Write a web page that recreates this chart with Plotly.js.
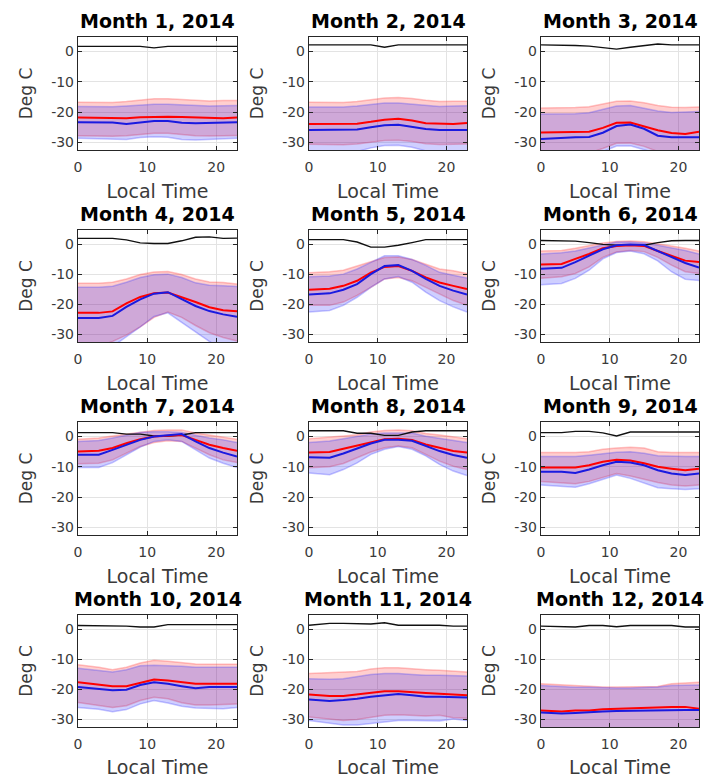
<!DOCTYPE html>
<html>
<head>
<meta charset="utf-8">
<script src="https://cdn.plot.ly/plotly-3.0.1.min.js"></script>
<style>html,body{margin:0;padding:0;background:#fff;}#chart{width:704px;height:778px;}</style>
</head>
<body>
<div id="chart"></div>
<script>
// Local time (hours) at which values were read
const hours = [0, 3, 5, 7, 9, 11, 13, 15, 17, 19, 21, 23];
const monthTitles = ["Month 1, 2014","Month 2, 2014","Month 3, 2014","Month 4, 2014","Month 5, 2014","Month 6, 2014",
                     "Month 7, 2014","Month 8, 2014","Month 9, 2014","Month 10, 2014","Month 11, 2014","Month 12, 2014"];
const xTicks = [0, 10, 20];
const yTicks = [0, -10, -20, -30];

// black reference line, per month
const black = [
  [1.7,1.7,1.7,1.7,1.7,1.2,1.7,1.7,1.7,1.7,1.7,1.7],
  [2.2,2.2,2.2,2.2,2.2,1.4,2.2,2.2,2.2,2.2,2.2,2.2],
  [2.2,2.2,2.0,1.8,1.2,0.8,1.4,2.0,2.5,2.2,2.2,2.2],
  [2.0,2.0,2.0,1.5,0.5,0.3,0.3,1.2,2.4,2.5,2.0,2.1],
  [1.6,1.6,1.6,0.8,-0.9,-0.9,-0.3,0.6,1.6,1.6,1.6,1.6],
  [1.3,1.3,1.1,0.6,0.0,-0.3,-0.3,-0.3,0.6,1.2,1.3,1.3],
  [1.3,1.3,1.3,0.8,0.8,0.2,0.2,0.5,1.3,1.3,1.3,1.3],
  [1.9,1.9,1.9,1.1,1.1,0.4,0.4,1.5,1.9,1.9,1.9,1.9],
  [1.3,1.3,1.7,1.7,1.2,0.2,1.5,1.5,1.5,1.5,1.5,1.5],
  [1.3,1.3,1.2,1.1,0.8,0.8,1.6,1.6,1.6,1.6,1.6,1.6],
  [1.4,2.0,2.0,1.8,1.8,2.2,1.4,1.4,1.4,1.4,1.1,1.1],
  [1.1,0.8,0.8,1.3,1.3,0.9,1.3,1.3,1.3,1.3,0.8,0.8]
];
// red series: mean, upper and lower band edges
const redMean = [
  [-21.8,-21.8,-21.9,-22.0,-21.7,-21.5,-21.5,-21.6,-21.8,-21.9,-22.0,-21.8],
  [-23.9,-23.9,-23.9,-23.8,-23.2,-22.5,-22.2,-22.8,-23.7,-23.9,-23.9,-23.6],
  [-26.7,-26.7,-26.7,-26.5,-25.2,-23.5,-23.4,-24.6,-26.0,-26.9,-27.2,-26.5],
  [-22.8,-22.8,-22.3,-19.6,-17.5,-16.3,-16.0,-17.5,-19.2,-20.9,-21.9,-22.3],
  [-15.1,-14.8,-13.8,-12.1,-9.4,-7.5,-7.2,-8.8,-11.0,-12.7,-13.8,-14.9],
  [-6.7,-6.5,-4.8,-3.2,-1.3,-0.5,-0.3,-0.5,-2.2,-3.8,-5.4,-5.9],
  [-4.9,-4.7,-3.8,-2.2,-0.9,0.0,0.3,0.5,-1.1,-2.7,-3.8,-4.7],
  [-5.3,-5.1,-4.0,-2.9,-2.0,-0.9,-0.7,-1.1,-2.6,-3.7,-4.8,-5.3],
  [-10.2,-10.2,-10.2,-9.5,-8.3,-7.7,-7.9,-8.8,-10.0,-10.6,-11.1,-10.6],
  [-17.6,-18.5,-18.9,-18.9,-17.8,-16.7,-17.0,-17.6,-18.1,-18.1,-18.1,-18.1],
  [-21.7,-22.2,-22.2,-21.7,-21.0,-20.6,-20.6,-21.0,-21.2,-21.4,-21.7,-21.9],
  [-27.0,-27.3,-27.0,-27.0,-26.6,-26.4,-26.2,-26.1,-25.9,-25.8,-25.8,-26.4]
];
const redHi = [
  [-16.7,-16.8,-16.8,-16.5,-16.0,-15.6,-15.6,-15.8,-16.2,-16.3,-16.2,-16.2],
  [-16.7,-16.8,-16.8,-16.5,-15.8,-15.3,-15.2,-15.5,-16.1,-16.5,-16.4,-16.4],
  [-18.6,-18.6,-18.5,-18.2,-17.2,-16.4,-16.3,-16.9,-17.8,-18.4,-18.5,-18.3],
  [-12.9,-12.9,-12.6,-11.5,-10.0,-9.2,-9.0,-10.0,-11.5,-12.5,-12.7,-13.2],
  [-9.4,-9.1,-8.6,-7.3,-5.8,-4.4,-4.2,-5.0,-6.5,-8.2,-8.8,-9.7],
  [-2.2,-2.0,-1.3,-0.5,0.5,1.0,1.1,0.9,0.3,-0.5,-1.3,-2.2],
  [-0.9,-0.5,0.2,0.8,1.6,2.0,2.2,2.2,1.2,0.5,-0.2,-0.9],
  [-0.7,-0.3,0.2,0.6,1.5,2.0,2.2,1.9,1.0,0.5,-0.1,-0.7],
  [-5.3,-5.3,-5.3,-5.0,-4.2,-3.8,-3.5,-3.8,-5.0,-5.3,-5.3,-5.3],
  [-11.8,-12.6,-13.4,-12.6,-11.2,-10.3,-10.6,-11.0,-11.5,-11.6,-11.6,-11.6],
  [-14.7,-14.5,-14.3,-14.0,-13.2,-12.8,-12.8,-13.2,-13.4,-13.6,-14.0,-14.2],
  [-18.1,-18.5,-18.7,-19.0,-19.2,-19.2,-19.2,-19.0,-19.0,-18.1,-17.8,-17.6]
];
const redLo = [
  [-27.8,-27.9,-28.0,-27.8,-27.3,-27.0,-27.0,-27.4,-27.8,-27.9,-27.8,-27.7],
  [-30.6,-30.8,-30.8,-30.5,-29.9,-29.4,-29.3,-29.7,-30.4,-30.7,-30.6,-30.5],
  [-34.5,-34.5,-34.0,-33.5,-32.0,-30.3,-30.2,-31.3,-33.0,-34.0,-34.5,-34.5],
  [-34.0,-34.0,-32.3,-30.2,-27.5,-24.3,-22.5,-24.3,-27.0,-29.4,-31.0,-32.2],
  [-20.3,-20.3,-19.2,-17.0,-14.3,-11.5,-11.0,-12.1,-14.3,-16.5,-18.7,-20.3],
  [-11.3,-10.8,-9.7,-7.5,-4.3,-2.5,-2.0,-2.4,-4.3,-6.9,-9.1,-9.7],
  [-9.0,-8.8,-7.7,-5.5,-3.3,-2.0,-1.4,-1.6,-3.8,-6.0,-7.7,-8.6],
  [-10.3,-10.0,-8.9,-7.0,-5.1,-3.7,-3.1,-3.7,-5.9,-8.1,-9.8,-10.9],
  [-14.8,-15.2,-15.6,-14.8,-13.6,-12.2,-13.0,-14.1,-15.2,-16.0,-16.3,-16.0],
  [-24.3,-25.2,-26.0,-25.4,-23.7,-22.6,-23.1,-24.4,-25.2,-25.2,-25.0,-24.8],
  [-29.2,-29.8,-30.3,-30.0,-29.2,-28.6,-28.4,-28.6,-28.8,-28.6,-29.4,-29.6],
  [-36.0,-36.0,-36.0,-36.0,-36.0,-36.0,-36.0,-36.0,-36.0,-36.0,-36.0,-36.0]
];
// blue series: mean, upper and lower band edges
const blueMean = [
  [-23.3,-23.3,-23.4,-23.9,-23.3,-22.9,-22.9,-23.5,-23.7,-23.6,-23.4,-23.3],
  [-25.9,-25.9,-25.9,-25.7,-25.0,-24.3,-24.2,-24.8,-25.6,-25.9,-25.9,-25.9],
  [-28.9,-28.4,-28.3,-28.2,-26.8,-24.6,-24.1,-25.5,-27.8,-28.3,-28.3,-28.3],
  [-24.5,-24.5,-23.8,-20.8,-18.3,-16.4,-15.9,-18.2,-20.5,-22.2,-23.3,-24.1],
  [-16.7,-16.3,-15.1,-13.2,-9.9,-7.2,-6.9,-8.8,-11.5,-13.8,-15.4,-16.7],
  [-8.1,-7.8,-5.9,-3.8,-1.6,-0.3,0.0,-0.2,-2.2,-4.3,-6.2,-7.7],
  [-6.0,-6.0,-4.4,-2.7,-1.1,0.0,0.5,0.8,-1.6,-3.8,-5.3,-6.6],
  [-6.8,-7.0,-5.6,-4.0,-2.3,-1.1,-1.1,-1.4,-3.1,-4.8,-6.1,-7.0],
  [-11.6,-11.6,-12.0,-10.9,-9.5,-8.3,-8.6,-9.5,-11.1,-12.2,-12.7,-12.2],
  [-19.2,-19.8,-20.3,-20.1,-18.5,-17.6,-18.1,-18.9,-19.6,-19.2,-19.2,-19.2],
  [-23.3,-23.8,-23.5,-23.1,-22.4,-21.9,-21.5,-21.9,-22.4,-22.4,-22.6,-22.7],
  [-27.7,-28.0,-27.8,-27.5,-27.3,-27.2,-27.1,-27.0,-26.8,-26.8,-26.8,-26.8]
];
const blueHi = [
  [-18.1,-18.2,-18.2,-18.0,-17.6,-17.4,-17.4,-17.6,-17.9,-18.0,-17.9,-17.8],
  [-18.3,-18.4,-18.3,-18.0,-17.4,-17.0,-17.0,-17.3,-17.8,-18.1,-18.0,-17.9],
  [-20.6,-20.6,-20.5,-20.2,-19.0,-18.0,-17.8,-18.6,-19.6,-20.1,-20.0,-19.8],
  [-14.3,-14.3,-13.9,-12.6,-11.0,-10.1,-9.9,-11.0,-12.8,-13.6,-13.8,-14.0],
  [-10.8,-10.5,-9.9,-8.2,-6.0,-3.8,-3.8,-5.0,-7.0,-9.3,-10.3,-11.2],
  [-3.2,-2.8,-2.2,-1.2,0.0,0.8,0.8,0.5,-0.3,-1.1,-2.0,-3.2],
  [-1.6,-1.3,-0.5,0.3,1.3,1.6,1.6,1.3,0.3,-0.5,-1.1,-2.0],
  [-2.0,-1.5,-0.7,0.0,0.8,1.2,1.3,1.2,0.1,-0.6,-1.1,-2.0],
  [-6.6,-6.6,-6.6,-6.2,-5.7,-5.2,-5.0,-5.5,-6.3,-6.5,-6.6,-6.6],
  [-12.9,-13.7,-14.2,-13.4,-12.1,-11.9,-12.0,-12.3,-12.6,-12.6,-12.6,-12.6],
  [-16.4,-16.6,-16.4,-15.8,-15.0,-14.7,-14.7,-15.0,-15.3,-15.3,-15.5,-15.5],
  [-18.7,-19.2,-19.3,-19.3,-19.5,-19.5,-19.5,-19.3,-19.2,-18.7,-18.5,-18.5]
];
const blueLo = [
  [-28.6,-28.8,-28.9,-29.0,-28.4,-28.1,-28.3,-29.0,-29.2,-29.0,-28.8,-28.6],
  [-33.5,-33.5,-33.5,-33.0,-31.8,-31.0,-30.9,-31.6,-32.8,-33.5,-33.5,-33.5],
  [-35.5,-35.5,-35.0,-34.5,-33.0,-31.2,-31.1,-32.5,-34.0,-35.0,-35.5,-35.5],
  [-36.0,-36.0,-34.0,-30.8,-27.5,-24.0,-22.8,-26.0,-29.2,-32.3,-35.0,-36.0],
  [-22.5,-22.0,-20.3,-17.6,-14.3,-11.5,-10.7,-12.6,-15.9,-18.7,-20.8,-22.5],
  [-13.4,-13.0,-11.3,-8.6,-4.8,-2.7,-2.2,-3.1,-5.5,-9.1,-11.6,-12.0],
  [-10.2,-10.2,-8.6,-6.0,-3.5,-1.6,-1.1,-1.6,-4.4,-7.1,-8.8,-10.2],
  [-12.0,-12.6,-10.9,-8.7,-5.9,-4.2,-3.3,-4.2,-6.4,-9.2,-11.4,-12.9],
  [-16.0,-16.5,-16.7,-15.6,-14.1,-12.7,-13.8,-15.3,-16.9,-17.2,-17.5,-17.2],
  [-26.0,-26.6,-27.4,-26.7,-24.8,-23.7,-24.5,-25.6,-26.2,-26.4,-26.4,-26.0],
  [-30.3,-31.3,-31.8,-31.8,-31.3,-30.6,-30.3,-30.3,-30.3,-30.5,-29.8,-30.3],
  [-37.0,-37.0,-37.0,-37.0,-37.0,-37.0,-37.0,-37.0,-37.0,-37.0,-37.0,-37.0]
];

// ---- layout geometry (pixels) ----
const W = 704, H = 778;
const colPx = [[78,237],[309,467],[541,699]];
const rowPx = [[37,150],[230,342],[422,535],[615,727]];

const traces = [];
const layout = {
  width: W, height: H,
  margin: {l:0, r:0, t:0, b:0},
  paper_bgcolor: '#fff', plot_bgcolor: '#fff',
  showlegend: false,
  font: {family: 'DejaVu Sans, sans-serif', color: '#262626'},
  annotations: []
};

const axColor = '#262626';
for (let k = 0; k < 12; k++) {
  const r = Math.floor(k / 3), c = k % 3;
  const sfx = k === 0 ? '' : String(k + 1);
  const xa = 'x' + sfx, ya = 'y' + sfx;
  const xd = [colPx[c][0] / W, colPx[c][1] / W];
  const yd = [1 - rowPx[r][1] / H, 1 - rowPx[r][0] / H];

  const lineStyle = (col, w) => ({color: col, width: w, shape: 'linear'});
  // red band
  traces.push({x: hours, y: redHi[k], xaxis: xa, yaxis: ya, mode: 'lines', line: lineStyle('rgba(255,60,60,0.30)', 1.5), hoverinfo: 'skip'});
  traces.push({x: hours, y: redLo[k], xaxis: xa, yaxis: ya, mode: 'lines', line: lineStyle('rgba(255,60,60,0.30)', 1.5), fill: 'tonexty', fillcolor: 'rgba(255,0,0,0.19)', hoverinfo: 'skip'});
  // blue band
  traces.push({x: hours, y: blueHi[k], xaxis: xa, yaxis: ya, mode: 'lines', line: lineStyle('rgba(60,60,255,0.30)', 1.5), hoverinfo: 'skip'});
  traces.push({x: hours, y: blueLo[k], xaxis: xa, yaxis: ya, mode: 'lines', line: lineStyle('rgba(60,60,255,0.30)', 1.5), fill: 'tonexty', fillcolor: 'rgba(0,0,255,0.19)', hoverinfo: 'skip'});
  // black line
  traces.push({x: hours, y: black[k], xaxis: xa, yaxis: ya, mode: 'lines', line: lineStyle('#111', 1.4)});
  // means
  traces.push({x: hours, y: redMean[k], xaxis: xa, yaxis: ya, mode: 'lines', line: lineStyle('#ff0000', 2)});
  traces.push({x: hours, y: blueMean[k], xaxis: xa, yaxis: ya, mode: 'lines', line: lineStyle('#1a1ae0', 2)});

  const common = {
    showline: true, linecolor: axColor, linewidth: 1.2, mirror: 'ticks',
    ticks: 'inside', ticklen: 4, tickcolor: axColor, tickwidth: 1,
    showgrid: true, gridcolor: '#e3e3e3', gridwidth: 1, zeroline: false,
    tickfont: {family: 'DejaVu Sans, sans-serif', size: 14, color: '#3a3a3a'},
    fixedrange: true
  };
  layout['xaxis' + sfx] = Object.assign({}, common, {
    domain: xd, anchor: ya, range: [0, 23], tickmode: 'array', tickvals: xTicks, ticktext: xTicks.map(String),
    ticklabelstandoff: 4,
    title: {text: 'Local Time', font: {family: 'DejaVu Sans, sans-serif', size: 19, color: '#3a3a3a'}, standoff: 10}
  });
  layout['yaxis' + sfx] = Object.assign({}, common, {
    domain: yd, anchor: xa, range: [-32.5, 4.8], tickmode: 'array', tickvals: yTicks, ticktext: yTicks.map(String),
    title: {text: 'Deg C', font: {family: 'DejaVu Sans, sans-serif', size: 17, color: '#3a3a3a'}, standoff: 14}
  });
  layout.annotations.push({
    text: '<b>' + monthTitles[k] + '</b>', xref: 'paper', yref: 'paper',
    x: (xd[0] + xd[1]) / 2, y: yd[1], xanchor: 'center', yanchor: 'bottom', yshift: 3,
    showarrow: false, font: {family: 'DejaVu Sans, sans-serif', size: 19, color: '#000'}
  });
}

Plotly.newPlot('chart', traces, layout, {staticPlot: true, displayModeBar: false});
</script>
</body>
</html>
